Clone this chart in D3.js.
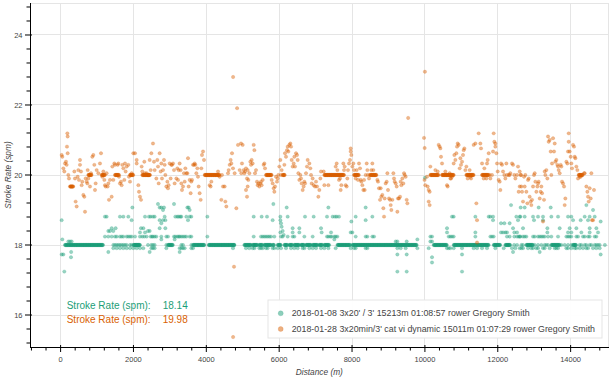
<!DOCTYPE html>
<html><head><meta charset="utf-8">
<script src="https://cdn.jsdelivr.net/npm/d3@7"></script>
<style>body{margin:0;background:#fff}svg{display:block}</style>
</head><body>
<svg id="c" width="612" height="379"></svg>
<script>
// ---------------- DATA ----------------
const xTicks = [0, 2000, 4000, 6000, 8000, 10000, 12000, 14000];
const yTicks = [16, 18, 20, 22, 24];
const seriesNames = [
  "2018-01-08 3x20' / 3' 15213m 01:08:57 rower Gregory Smith",
  "2018-01-28 3x20min/3' cat vi dynamic 15011m 01:07:29 rower Gregory Smith"
];
const seriesColors = ["#1b9e77", "#d95f02"];
const summaryLabel = "Stroke Rate (spm):";
const summaryValues = ["18.14", "19.98"];
const strokeLength = [12, 11]; // metres per stroke of each workout

// runs of consecutive strokes at one constant rate: [fromDistance, toDistance, rate]
const greenRuns = [
  [120,1170,18],[2000,2180,18],[2948,3085,18],[3634,3955,18],[4064,4778,18],
  [5044,5227,18],[5272,5410,18],[5455,5547,18],[5593,5776,18],[5821,5867,18],[5959,6050,18],
  [6142,6233,18],[6279,6370,18],[6416,6553,18],[6599,6691,18],[6736,6874,18],[6919,7057,18],
  [7102,7194,18],[7240,7377,18],[7600,7950,18],[8010,9780,18],
  [10241,10607,18],[10790,11750,18],[11888,12071,18],[12208,12345,18],
  [12785,12968,18],[13471,13700,18],[14066,14157,18]
];
// single strokes of workout 1, grouped by rate: [rate, [distances]]
const greenLevels = [
  [19.92,[10000]],
  [19.17,[2673,3113,5840]],
  [19.14,[12364,14432]],
  [19.07,[1969,2719,2765,2838,3479,3515,6206,7350,8374,12629,12739,13123,13453]],
  [19.0,[2811,3543,14615]],
  [18.81,[1218,1264,1630,1722,1859,2317,2426,2472,2536,2582,2857,3149,3204,3241,3287,3314,3451,3543,3588,4028,
          5300,5519,5666,6032,6233,6709,6947,7313,7468,7532,7578,7642,8100,8557,10744,10790,11385,11751,11797,11870,
          12510,12620,12602,12739,12968,13105,13242,13471,13654,13929,14020,14386,14523,14661]],
  [18.71,[29,1950,2719,2811,2875,3497,5821,6032,8374,11870,12556,12995,13242,14066,14276,14478]],
  [18.67,[7981,14825]],
  [18.62,[2765,6050,12089,12181,12327]],
  [18.52,[6068]],
  [18.48,[1402,1511,2207,2271,2719,2875,6370,6553,7148,10607,12419,12693,13361,13700,13974,14157,14523,14706]],
  [18.4,[1310,1356,1447,2399,2445,6096]],
  [18.36,[2179,2317,6032,6370,6553,7166,7423,7963,8008,10607,11385,12089,12144,12208,12254,12455,12529,13361,13929,14020,14295,14523,14752]],
  [18.29,[6123]],
  [18.24,[1218,1310,1402,1493,1539,1630,1676,1722,1813,1859,1905,1951,2042,2179,2243,2298,2362,
          2472,2509,2536,2582,2628,2765,2902,2948,3113,3149,3204,3241,3268,3314,3360,3406,3451,3543,3588,4028,
          5300,5501,5547,5593,5638,5684,5730,5776,5867,6050,6096,6233,6370,6416,6691,6919,7313,7350,7404,7441,7514,
          7551,7597,8100,8374,8420,8557,8603,
          10150,10195,10653,10699,10744,10790,11385,11797,11842,11888,12254,12327,12455,12529,12574,12620,
          12602,12693,12739,12785,12968,13014,13105,13151,13197,13242,13288,13380,13471,13654,13883,13929,13974,14020,
          14157,14203,14340,14386,14478,14523,14661,14706]],
  [18.16,[47,2765,3131,7514,9793]],
  [18.1,[212,258,304,9198,9244,9500,10150,10195]],
  [18.0,[1447,1493,1539,1585,1630,1676,1722,1768,1813,1905,1951,2042,2088,2134,2399,2491,2536,2582,2902,3314,3360,3588,4760,
         12450,12530,12648,12693,13014,13105,13197,13288,13334,13380,13746,13837,13929,14020,14249,14295,14386,14432,
         14523,14569,14661,14706,14752,14798,14940]],
  [17.91,[1447,1539,1630,1722,1813,1905,1996,2088,2179,2270,
          2491,2536,2582,2902,3268,3314,3360,3406,3588,3634,4732,
          5089,5181,5272,5318,5455,5501,5547,5638,5684,5821,5867,5959,6050,6187,6325,6416,6508,6645,6691,6828,6919,7011,7148,7240,7350,
          7551,7963,8054,8100,8374,8420,9244,9335,9472,9793,
          10104,10607,10653,10699,10790,11019,11339,11431,11568,11705,11934,12163,12391,12483,
          12602,12648,12693,12831,12922,12968,13059,13105,13242,13288,13425,13563,13608,13654,13883,13929,14020,14112,
          14157,14249,14340,14432,14478,14615,14706,14798]],
  [17.8,[290,1310,2445,3268,12419,13151]],
  [17.73,[29,75,9244,9500,11019,14825]],
  [17.65,[285,10195]],
  [17.5,[10195]],
  [17.24,[102,9244,9500,11019]]
];

const orangeRuns = [
  [761,850,20],[1127,1219,20],[1493,1603,20],[1905,1996,20],[2243,2420,20],[2399,2460,20],
  [3955,4370,20],[5638,5794,20],[6096,6160,20],[7240,7780,20],[8054,8190,20],[8493,8676,20],
  [10150,10380,20],[10470,10790,20],[11138,11339,20],[11568,11750,20],[14220,14340,20],[258,349,19.67]
];
// single strokes of workout 2: [distance, rate]
const orangePoints = [
  [29,20.57],[47,20.52],[75,20.19],[102,20.10],[121,20.33],[148,20.38],[166,20.29],[185,21.19],[194,21.10],[175,20.81],
  [194,20.62],[212,20.0],[230,19.90],[377,20.10],[395,19.90],[413,19.24],[441,19.10],[468,19.95],[487,20.14],
  [505,19.86],[532,20.43],[532,20.29],[560,20.10],[578,19.71],[596,19.81],[624,19.43],[651,19.38],[670,18.95],[688,19.90],
  [715,19.81],[734,19.76],[743,20.14],[761,19.90],[807,19.67],[834,20.05],[871,20.52],[898,20.57],[926,20.29],[944,19.57],
  [962,19.76],[990,20.14],[1036,20.05],[1081,20.33],[1109,20.62],[1145,19.95],[1173,20.10],[1200,19.86],[1219,19.71],
  [1237,19.67],[1264,20.05],[1292,19.67],[1310,19.76],[1328,19.29],[1356,19.86],[1402,19.38],[1420,20.24],[1447,19.86],
  [1475,20.33],[1493,20.29],[1566,20.29],[1585,20.33],[1603,19.95],[1630,19.76],[1658,19.81],[1676,19.71],[1694,20.29],
  [1722,20.19],[1749,19.86],[1768,20.33],[1786,20.10],[1813,20.24],[1859,20.29],[1877,19.95],[1905,19.81],[1951,20.05],
  [1996,20.62],[2042,20.62],[2088,20.43],[2088,20.33],[2134,19.71],[2152,19.52],[2179,19.38],[2207,19.29],[2225,20.24],
  [2243,20.10],[2298,20.38],[2317,20.05],[2362,20.05],
  [2445,20.43],[2472,20.14],[2491,20.62],[2536,20.90],[2564,20.38],[2582,20.14],[2628,19.90],[2655,20.43],[2674,20.24],
  [2692,19.76],[2719,20.62],[2747,20.10],[2765,20.33],[2783,19.90],[2811,20.14],[2838,20.43],[2857,20.29],[2875,20.0],
  [2902,19.67],[2930,19.81],[2948,19.62],[2966,19.71],[2994,20.33],[3021,19.90],[3040,20.29],[3058,20.29],[3085,20.33],
  [3113,20.14],[3131,19.76],[3177,19.90],[3204,20.19],[3223,19.86],[3241,20.14],[3268,20.33],[3296,20.14],[3314,19.76],
  [3332,19.57],[3360,19.67],[3387,20.05],[3406,19.81],[3424,20.19],[3451,20.05],[3479,20.05],[3497,20.48],[3515,19.67],
  [3543,19.86],[3570,19.48],[3588,19.81],[3607,19.86],[3634,20.29],[3662,20.29],[3680,20.33],[3698,20.29],[3726,20.05],
  [3753,20.19],[3771,19.95],[3790,19.67],[3817,19.48],[3845,19.29],[3863,20.19],[3881,20.57],[3909,20.67],[3936,20.43],
  [4092,19.71],[4119,19.67],[4138,19.81],[4321,20.10],[4366,19.95],[4412,19.29],[4430,20.0],[4458,19.67],[4503,19.67],
  [4522,19.24],[4549,19.10],[4595,20.05],[4613,20.14],[4641,20.29],[4668,20.43],[4687,20.33],[4705,20.62],[4732,20.19],
  [4778,20.05],[4824,19.05],[4870,20.86],[4915,20.14],[4961,20.05],
  [4735,22.80],[4845,21.91],[4760,17.38],[4735,15.37],
  [4952,20.90],[4998,20.86],[4979,20.33],[5025,20.14],[5044,20.05],[5062,20.10],[5089,20.19],[5117,19.90],[5135,20.14],
  [5153,19.86],[5089,19.57],[5117,19.38],[5135,19.67],[5181,20.05],[5208,20.38],[5227,20.29],[5245,20.43],[5272,20.33],
  [5300,20.86],[5318,20.71],[5336,20.05],[5364,20.14],[5391,19.81],[5410,19.71],[5428,19.76],[5455,19.67],[5483,19.76],
  [5501,19.81],[5519,19.71],[5547,19.86],[5574,20.29],[5593,20.33],[5611,20.19],[5794,19.86],[5821,19.76],[5849,19.62],
  [5867,19.52],[5885,19.67],[5913,19.95],[5940,19.81],[5959,19.90],[5977,20.0],[6004,20.24],[6032,20.43],[6050,20.0],
  [6068,20.14],[6142,20.29],[6160,20.62],[6187,20.52],[6215,20.71],[6233,20.81],[6251,20.67],[6279,20.86],
  [6306,20.90],[6325,20.81],[6343,20.43],[6370,20.24],[6398,20.33],[6416,20.52],[6434,20.24],[6462,20.62],[6489,20.57],
  [6508,20.43],[6526,20.05],[6553,19.86],[6581,20.0],[6599,19.90],[6617,19.76],[6645,19.57],[6672,19.67],[6691,19.81],
  [6709,19.76],[6736,20.05],[6764,20.24],[6782,20.43],[6828,20.33],[6855,20.19],[6874,20.0],[6892,19.76],[6919,19.90],
  [6947,19.71],[6983,19.67],[7011,19.81],[7038,19.67],[7075,19.38],[7102,19.57],[7130,19.90],[7148,20.10],[7221,20.10],
  [7240,19.71],[7350,19.71],
  [7551,20.24],[7578,20.33],[7597,20.14],[7642,19.86],[7670,19.90],[7688,19.57],[7706,19.71],[7761,20.33],[7780,20.14],
  [7798,20.24],[7825,19.71],[7853,19.67],[7871,19.90],[7889,20.14],[7917,20.33],[7944,20.43],[7963,20.67],[7963,20.76],
  [7981,20.57],[8008,20.24],[8036,20.33],[8054,20.14],[8100,19.90],[8127,20.14],[8164,19.86],[8191,20.33],[8219,20.19],
  [8237,19.86],[8255,19.81],[8283,19.71],[8310,19.57],[8329,19.86],[8347,19.57],[8374,20.0],[8402,20.33],[8420,20.14],
  [8438,20.0],[8466,19.90],[8530,20.14],[8557,20.33],[8585,20.14],[8695,19.86],[8713,19.81],[8740,19.62],[8768,19.29],
  [8786,19.62],[8804,19.38],[8832,19.43],[8859,19.05],[8878,18.81],[8896,19.33],[8923,19.76],[8951,19.81],[8969,20.05],
  [8987,19.57],[9015,19.33],[9042,19.29],[9061,19.14],[9079,19.00],[9106,19.29],[9134,20.05],[9152,19.90],[9170,19.81],
  [9198,19.76],[9225,19.67],[9244,18.95],[9262,19.33],[9289,19.33],[9317,19.38],[9335,19.81],[9353,19.71],[9381,19.90],
  [9408,19.76],[9427,20.05],[9445,20.0],[9472,19.95],[9500,19.29],[9518,19.19],[9540,21.63],
  [9976,21.06],[9993,20.77],[10000,22.95],[9990,19.86],[10010,19.71],
  [10058,19.95],[10076,19.67],[10104,19.57],[10131,19.52],[10104,19.24],[10131,19.14],[10150,20.24],[10287,20.14],
  [10351,20.10],[10378,20.86],[10406,20.81],[10424,20.76],[10442,20.52],[10470,20.33],[10561,20.10],[10607,19.71],
  [10625,19.67],[10680,20.05],[10699,19.90],[10717,19.90],[10744,19.95],[10790,20.33],[10808,20.57],[10836,20.43],
  [10863,20.62],[10882,20.81],[10900,20.90],[10927,20.86],[10955,20.19],[10973,20.48],[10991,20.29],[11019,20.38],
  [11046,20.57],[11065,20.71],[11083,20.76],[11110,20.14],[11138,20.24],[11174,19.90],[11229,20.14],[11248,19.95],
  [11266,19.90],[11339,20.86],[11385,20.90],[11412,19.19],[11431,18.71],[11431,18.07],[11476,21.19],[11522,20.90],
  [11540,20.76],[11568,20.33],[11614,19.90],[11632,20.19],[11687,19.90],[11705,20.33],[11723,20.43],[11751,20.62],
  [11778,20.0],[11797,19.90],[11842,20.0],[11870,20.67],[11888,21.19],[11906,20.95],[11934,20.90],[11934,20.81],
  [11961,20.62],[11980,20.33],[11998,20.10],[12025,19.86],[12053,19.81],[12071,19.57],[12089,20.33],[12117,20.29],
  [12144,20.10],[12181,20.0],[12208,19.90],[12236,20.33],[12254,20.0],[12300,20.0],[12327,20.0],[12345,20.05],
  [12391,20.33],[12419,20.29],[12455,20.0],[12483,19.90],[12529,20.0],[12574,19.52],[12602,19.67],[12638,20.0],
  [12556,20.24],[12602,20.10],[12629,20.0],[12648,19.67],[12666,19.52],[12693,19.24],[12721,19.95],[12739,19.67],
  [12757,20.0],[12785,19.52],[12812,19.19],[12831,19.86],[12849,19.90],[12876,19.38],[12904,19.24],[12922,19.14],
  [12940,19.29],[12968,19.67],[12995,20.0],[13014,20.05],[13032,19.81],[13059,19.52],[13087,19.67],[13105,19.76],
  [13123,19.81],[13151,19.33],[13178,19.52],[13197,19.67],[13215,19.48],[13242,18.67],[13270,19.29],[13288,20.10],
  [13306,20.0],[13334,20.14],[13361,19.90],[13380,21.10],[13398,20.95],[13425,21.0],[13453,20.67],[13471,20.0],
  [13489,20.33],[13517,21.05],[13544,20.67],[13563,20.90],[13581,20.38],[13608,20.43],[13636,20.29],[13654,20.24],
  [13672,20.14],[13700,20.05],[13727,20.29],[13746,20.24],[13764,19.81],[13791,19.76],[13819,19.67],[13837,19.14],
  [13855,19.33],[13883,20.38],[13910,20.33],[13929,20.67],[13947,21.19],[13947,20.95],[13974,20.67],[14002,20.52],
  [14020,20.33],[14038,20.19],[14066,20.86],[14093,20.81],[14112,20.52],[14130,20.48],[14157,20.24],[14185,20.14],
  [14203,19.90],[14249,19.95],[14276,19.95],[14368,20.05],[14386,20.05],[14432,19.67],[14459,19.52],
  [14478,19.38],[14496,19.24],[14523,19.62],[14551,19.33],[14569,20.05],[14587,18.71],[14615,18.71],[14642,19.57]
];

// ---------------- CHART ----------------
const plot = {left: 30, right: 608.7, top: 3, bottom: 347};
const x = d3.scaleLinear().domain([-840, 15045]).range([plot.left, plot.right]);
const y = d3.scaleLinear().domain([15.086, 24.914]).range([plot.bottom, plot.top]);
const svg = d3.select("#c");
const font = "'Liberation Sans', Arial, Helvetica, sans-serif";
const tickColor = "#444";

// grid
const grid = svg.append("g");
grid.selectAll(".gx").data(xTicks).join("line")
  .attr("x1", d => x(d)).attr("x2", d => x(d)).attr("y1", plot.top).attr("y2", plot.bottom)
  .attr("stroke", "#e5e5e5").attr("stroke-width", 1).attr("shape-rendering", "crispEdges");
grid.selectAll(".gy").data(yTicks).join("line")
  .attr("y1", d => y(d)).attr("y2", d => y(d)).attr("x1", plot.left).attr("x2", plot.right)
  .attr("stroke", "#e5e5e5").attr("stroke-width", 1).attr("shape-rendering", "crispEdges");
svg.append("rect").attr("x", plot.left).attr("y", plot.top)
  .attr("width", plot.right - plot.left).attr("height", plot.bottom - plot.top)
  .attr("fill", "none").attr("stroke", "#e5e5e5").attr("shape-rendering", "crispEdges");

// expand data
function expandRuns(runs, step) {
  const out = [];
  runs.forEach(([a, b, r]) => { for (let d = a; d <= b; d += step) out.push([d, r]); });
  return out;
}
const greenData = expandRuns(greenRuns, strokeLength[0]);
greenLevels.forEach(([r, ds]) => ds.forEach(d => greenData.push([d, r])));
const orangeData = expandRuns(orangeRuns, strokeLength[1]).concat(orangePoints);

svg.append("clipPath").attr("id", "clipP").append("rect")
  .attr("x", plot.left).attr("y", plot.top).attr("width", plot.right - plot.left).attr("height", plot.bottom - plot.top);

[greenData, orangeData].forEach((data, i) => {
  svg.append("g").attr("clip-path", "url(#clipP)")
    .selectAll("circle").data(data).join("circle")
    .attr("cx", d => x(d[0])).attr("cy", d => y(d[1])).attr("r", 1.7)
    .attr("fill", seriesColors[i]).attr("fill-opacity", 0.45)
    .attr("stroke", seriesColors[i]).attr("stroke-opacity", 0.35).attr("stroke-width", 0.5);
});

// axes
const xAxisG = svg.append("g").attr("transform", `translate(0,${plot.bottom})`);
xAxisG.append("line").attr("x1", plot.left).attr("x2", plot.right).attr("y1", 0).attr("y2", 0)
  .attr("stroke", "#000").attr("shape-rendering", "crispEdges");
const xMinor = d3.range(-800, 15001, 400).filter(v => !xTicks.includes(v));
xAxisG.selectAll(".xm").data(xMinor).join("line")
  .attr("x1", d => x(d)).attr("x2", d => x(d)).attr("y1", 0).attr("y2", 3.5).attr("stroke", "#000");
xAxisG.selectAll(".xM").data(xTicks).join("line")
  .attr("x1", d => x(d)).attr("x2", d => x(d)).attr("y1", -2).attr("y2", 5).attr("stroke", "#000");
xAxisG.selectAll("text").data(xTicks).join("text")
  .attr("x", d => x(d)).attr("y", 15).attr("text-anchor", "middle")
  .attr("font-family", font).attr("font-size", 7.5).attr("fill", tickColor).text(d => d);

const yAxisG = svg.append("g").attr("transform", `translate(${plot.left},0)`);
yAxisG.append("line").attr("x1", 0).attr("x2", 0).attr("y1", plot.top).attr("y2", plot.bottom)
  .attr("stroke", "#000").attr("shape-rendering", "crispEdges");
const yMinor = d3.range(15.2, 24.9, 0.4).map(v => +v.toFixed(1)).filter(v => !yTicks.includes(v));
yAxisG.selectAll(".ym").data(yMinor).join("line")
  .attr("y1", d => y(d)).attr("y2", d => y(d)).attr("x1", 0).attr("x2", -3.5).attr("stroke", "#000");
yAxisG.selectAll(".yM").data(yTicks).join("line")
  .attr("y1", d => y(d)).attr("y2", d => y(d)).attr("x1", 2).attr("x2", -5).attr("stroke", "#000");
yAxisG.selectAll("text").data(yTicks).join("text")
  .attr("x", -7.5).attr("y", d => y(d)).attr("dy", "0.35em").attr("text-anchor", "end")
  .attr("font-family", font).attr("font-size", 7.5).attr("fill", tickColor).text(d => d);

svg.append("text").attr("x", (plot.left + plot.right) / 2).attr("y", 375)
  .attr("text-anchor", "middle").attr("font-family", font).attr("font-size", 8.3)
  .attr("font-style", "italic").attr("fill", tickColor).text("Distance (m)");
svg.append("text").attr("transform", `translate(11,${(plot.top + plot.bottom) / 2}) rotate(-90)`)
  .attr("text-anchor", "middle").attr("font-family", font).attr("font-size", 8.3)
  .attr("font-style", "italic").attr("fill", tickColor).text("Stroke Rate (spm)");

// summary labels
summaryValues.forEach((v, i) => {
  const yy = 309 + i * 14;
  svg.append("text").attr("x", 66.7).attr("y", yy).attr("font-family", font).attr("font-size", 10)
    .attr("fill", seriesColors[i]).text(summaryLabel);
  svg.append("text").attr("x", 162.7).attr("y", yy).attr("font-family", font).attr("font-size", 10)
    .attr("fill", seriesColors[i]).text(v);
});

// legend
const lg = svg.append("g");
lg.append("rect").attr("x", 268).attr("y", 300).attr("width", 334).attr("height", 38)
  .attr("fill", "#fff").attr("fill-opacity", 0.95).attr("stroke", "#e5e5e5");
seriesNames.forEach((name, i) => {
  const cy = 313.3 + i * 15.7;
  lg.append("circle").attr("cx", 280.7).attr("cy", cy).attr("r", 2.5)
    .attr("fill", seriesColors[i]).attr("fill-opacity", 0.5)
    .attr("stroke", seriesColors[i]).attr("stroke-opacity", 0.35).attr("stroke-width", 0.5);
  lg.append("text").attr("x", 291.7).attr("y", cy).attr("dy", "0.35em")
    .attr("font-family", font).attr("font-size", 8.85).attr("fill", tickColor).text(name);
});
</script>
</body></html>
